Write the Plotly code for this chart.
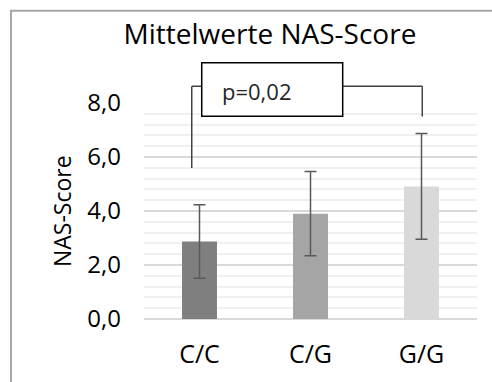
import plotly.graph_objects as go

categories = ["C/C", "C/G", "G/G"]
means = [2.87, 3.90, 4.91]
errors = [1.36, 1.56, 1.96]
bar_colors = ["#7f7f7f", "#a5a5a5", "#d9d9d9"]
y_tick_vals = [0, 2, 4, 6, 8]
y_tick_text = ["0,0", "2,0", "4,0", "6,0", "8,0"]
p_label = "p=0,02"

# figure geometry (pixels)
W, H = 492, 382
L, R, T, B = 144, 15, 103, 61
pw, ph = W - L - R, H - T - B
YMAX = 8.0


def px(xd):  # category-axis data -> paper x
    return (xd + 0.5) / 3.0


def py(yd):  # value -> paper y
    return yd / YMAX


def ppx(p):  # pixel x -> paper x
    return (p - L) / pw


def ppy(p):  # pixel y -> paper y
    return (H - B - p) / ph


fig = go.Figure()
fig.add_trace(go.Bar(
    x=categories, y=means,
    marker=dict(color=bar_colors, line=dict(width=0)),
    width=0.315,
    error_y=dict(type="data", array=errors, visible=True,
                 color="#595959", thickness=1.5, width=6),
))

line_col = "#404040"
shapes = [
    # outer chart border
    dict(type="rect", xref="paper", yref="paper",
         x0=ppx(11), x1=ppx(W + 5), y0=ppy(H + 5), y1=ppy(10),
         line=dict(color="#a6a6a6", width=2), fillcolor="rgba(0,0,0,0)", layer="below"),
    # bracket left
    dict(type="line", xref="paper", yref="paper",
         x0=px(-0.07), x1=px(-0.07), y0=py(5.59), y1=py(8.62),
         line=dict(color=line_col, width=1.5)),
    dict(type="line", xref="paper", yref="paper",
         x0=px(-0.07), x1=px(0.02), y0=py(8.62), y1=py(8.62),
         line=dict(color=line_col, width=1.5)),
    # bracket right
    dict(type="line", xref="paper", yref="paper",
         x0=px(1.29), x1=px(2.007), y0=py(8.62), y1=py(8.62),
         line=dict(color=line_col, width=1.5)),
    dict(type="line", xref="paper", yref="paper",
         x0=px(2.007), x1=px(2.007), y0=py(8.62), y1=py(7.50),
         line=dict(color=line_col, width=1.5)),
    # p-value box
    dict(type="rect", xref="paper", yref="paper",
         x0=px(0.02), x1=px(1.29), y0=py(7.51), y1=py(9.49),
         line=dict(color="#000000", width=1.5), fillcolor="white"),
]

font_family = "Open Sans, Liberation Sans, sans-serif"
annotations = [
    dict(text=p_label, xref="paper", yref="paper",
         x=ppx(220), y=py(8.45), xanchor="left", yanchor="middle",
         showarrow=False, font=dict(family=font_family, size=22, color="#262626")),
    dict(text="NAS-Score", xref="paper", yref="paper",
         x=ppx(62), y=ppy(212), xanchor="center", yanchor="middle",
         textangle=-90, showarrow=False,
         font=dict(family=font_family, size=23, color="#000000")),
]

fig.update_layout(
    width=W, height=H,
    margin=dict(l=L, r=R, t=T, b=B, pad=0),
    paper_bgcolor="white", plot_bgcolor="white",
    showlegend=False,
    title=dict(text="Mittelwerte NAS-Score", x=ppx(270), xanchor="center",
               xref="paper", y=1 - 34 / H, yref="container", yanchor="middle",
               font=dict(family=font_family, size=28, color="#000000")),
    shapes=shapes,
    annotations=annotations,
    bargap=0.685,
)
fig.update_yaxes(
    range=[0, YMAX], tickvals=y_tick_vals, ticktext=y_tick_text,
    showgrid=True, gridcolor="#d9d9d9", gridwidth=1.5,
    minor=dict(dtick=0.4, showgrid=True, gridcolor="#f0f0f0", gridwidth=1.5),
    zeroline=True, zerolinecolor="#d9d9d9", zerolinewidth=1.5,
    showline=False, ticks="", ticklabelstandoff=22,
    tickfont=dict(family=font_family, size=24, color="#000000"),
    fixedrange=True,
)
fig.update_xaxes(
    range=[-0.5, 2.5], showgrid=False, showline=False, ticks="",
    ticklabelstandoff=18,
    tickfont=dict(family=font_family, size=25, color="#000000"),
    fixedrange=True,
)

fig.write_html("out.html", config=dict(displayModeBar=False))
